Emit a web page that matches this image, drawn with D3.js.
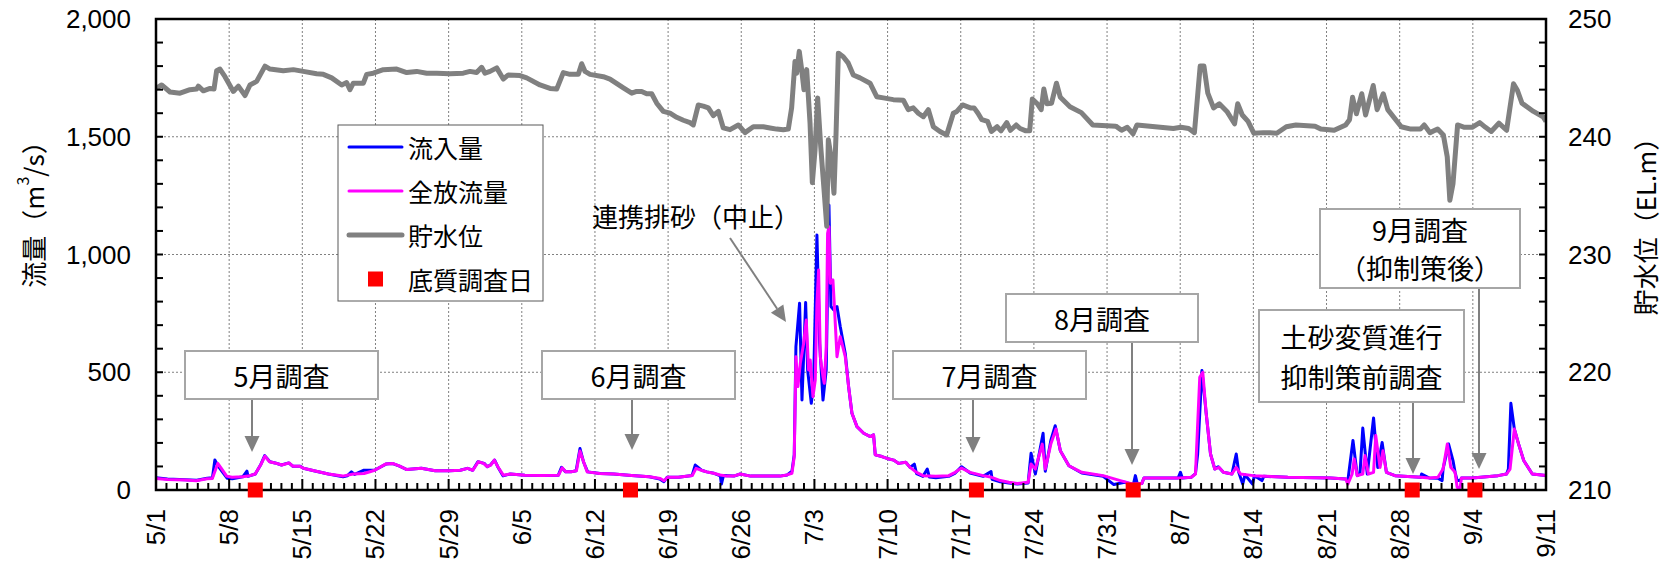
<!DOCTYPE html>
<html lang="ja">
<head>
<meta charset="UTF-8">
<title>流量・貯水位</title>
<script src="https://d3js.org/d3.v7.min.js"></script>
<style>
  body { margin: 0; background: #fff; }
  svg { display: block; }
  text { font-family: "Noto Sans CJK JP", sans-serif; fill: #000; }
  .num { font-family: "Liberation Sans", Arial, sans-serif; font-size: 26px; }
  .grid line { stroke: #808080; stroke-width: 1; stroke-dasharray: 2,2; }
</style>
</head>
<body>
<svg id="chart" width="1668" height="569"></svg>
<script>
// day offsets from 5/1
const startDate = new Date(2023, 4, 1);
const endDate = new Date(2023, 8, 11);

const inflow = [[0,52],[1.1,47],[2.8,44],[3.9,41],[4.9,50],[5.4,52],[5.63,127],[5.9,105],[6.3,80],[6.8,50],[7.3,48],[8.3,56],[8.7,80],[8.8,58],[9.5,68],[10.0,106],[10.4,146],[10.9,120],[11.4,115],[12.0,106],[12.7,115],[13.1,101],[13.8,101],[14.1,92],[15.1,82],[16.5,68],[17.9,56],[18.3,60],[18.7,77],[19.0,66],[19.9,84],[20.9,84],[22.0,110],[22.6,113],[23.3,101],[24.0,87],[25.4,92],[26.7,82],[28.1,82],[29.1,84],[29.8,92],[30.3,84],[30.8,120],[31.4,113],[31.7,99],[32.0,106],[32.4,127],[32.7,99],[33.2,60],[33.9,68],[35.3,63],[37.0,62],[38.5,63],[38.8,96],[39.2,77],[39.7,77],[40.2,82],[40.57,176],[40.9,120],[41.3,77],[42.5,70],[43.8,68],[45.5,62],[47.2,56],[48.2,47],[48.6,35],[48.9,54],[50.0,54],[51.3,62],[51.6,106],[52.2,84],[52.7,77],[53.4,71],[54.0,60],[54.1,25],[54.3,62],[55.3,59],[55.9,68],[56.9,59],[58.5,59],[59.7,59],[60.4,64],[60.85,80],[61.07,150],[61.23,609],[61.58,793],[61.81,382],[62.16,796],[62.35,510],[62.7,368],[62.92,453],[63.24,1083],[63.5,623],[63.82,382],[64.13,510],[64.39,1210],[64.58,779],[64.84,765],[65.16,779],[65.47,694],[65.95,580],[66.27,439],[66.59,326],[67.07,269],[67.71,241],[68.35,227],[68.66,234],[68.82,149],[69.46,142],[69.94,134],[70.58,127],[71.06,113],[71.74,118],[72.15,96],[72.56,110],[72.77,70],[73.39,58],[73.8,89],[74.0,55],[74.62,52],[75.85,58],[76.47,72],[77.08,99],[77.9,72],[79.14,58],[79.9,78],[80.0,45],[80.78,35],[81.6,30],[82.42,25],[83.45,30],[83.73,156],[84.14,68],[84.88,241],[85.09,80],[85.62,210],[86.04,273],[86.53,167],[87.35,103],[88.58,72],[90.63,58],[91.65,23],[92.68,33],[93.51,22],[93.71,61],[93.9,25],[94.33,28],[94.53,51],[95.56,51],[97.8,51],[98.02,75],[98.2,51],[99.05,54],[99.46,70],[99.67,153],[100.08,507],[100.49,323],[100.9,153],[101.31,89],[101.64,99],[102.13,75],[102.95,68],[103.36,153],[103.6,75],[103.98,25],[104.2,65],[104.92,25],[105.1,61],[105.82,40],[106.0,58],[108.29,54],[112.39,51],[113.83,47],[114.04,40],[114.53,210],[114.94,61],[115.2,68],[115.47,263],[115.9,68],[116.5,306],[116.9,96],[117.32,202],[117.73,75],[118.55,61],[119.78,57],[121.02,54],[121.1,68],[121.84,51],[122.66,50],[123.06,40],[123.15,89],[123.68,195],[124.1,125],[124.3,75],[124.5,40],[124.79,40],[124.91,51],[125.94,51],[127.58,57],[128.41,61],[129.23,68],[129.4,89],[129.64,368],[129.97,259],[130.38,195],[130.87,125],[131.69,68],[133,61]];

const outflow = [[0,49],[1.13,45],[2.83,42],[3.86,39],[4.88,48],[5.39,49],[5.91,113],[6.25,92],[6.76,59],[7.27,54],[8.3,56],[8.81,59],[9.49,68],[10.01,106],[10.42,144],[10.86,120],[11.37,115],[12.05,106],[12.74,115],[13.08,101],[13.76,101],[14.1,92],[15.13,82],[16.49,68],[17.86,59],[18.88,68],[19.91,70],[20.93,84],[21.96,110],[22.64,113],[23.32,101],[24.01,87],[25.37,92],[26.74,82],[28.1,82],[29.13,84],[29.81,92],[30.32,84],[30.84,120],[31.35,113],[31.69,99],[32.03,106],[32.37,127],[32.71,99],[33.23,63],[33.91,68],[35.28,63],[36.98,62],[38.52,63],[38.86,94],[39.2,77],[39.72,77],[40.23,82],[40.57,166],[40.91,120],[41.25,77],[42.45,70],[43.81,68],[45.52,62],[47.23,56],[48.25,49],[48.6,39],[48.94,54],[49.96,54],[51.33,62],[51.67,92],[52.18,84],[52.69,77],[53.35,71],[53.99,64],[54.63,59],[55.27,59],[55.9,68],[56.86,59],[58.46,59],[59.73,59],[60.37,64],[60.85,71],[61.07,142],[61.23,566],[61.42,439],[61.65,538],[61.97,623],[62.22,722],[62.44,510],[62.6,552],[62.86,396],[63.08,467],[63.24,793],[63.4,934],[63.56,566],[63.82,481],[63.94,453],[64.13,609],[64.26,1090],[64.39,1118],[64.52,878],[64.77,892],[64.93,765],[65.16,566],[65.47,651],[65.95,566],[66.27,439],[66.59,326],[67.07,269],[67.71,241],[68.35,227],[68.66,234],[68.82,149],[69.46,142],[69.94,134],[70.58,127],[71.06,113],[71.74,118],[72.15,96],[72.77,75],[73.39,61],[74.62,58],[75.85,61],[76.47,75],[77.08,93],[77.9,75],[79.14,61],[79.96,54],[80.78,40],[81.6,33],[82.42,28],[83.45,33],[83.73,110],[84.14,89],[84.8,195],[85.09,89],[85.62,195],[86.12,259],[86.53,167],[87.35,103],[88.58,75],[90.63,61],[92.27,40],[93.51,25],[94.33,28],[94.53,51],[95.56,51],[98.02,51],[99.05,54],[99.46,68],[99.87,479],[100.16,500],[100.49,323],[100.9,153],[101.31,89],[101.72,96],[102.13,75],[102.95,68],[103.36,96],[103.77,68],[105.0,61],[108.29,54],[112.39,51],[113.83,47],[114.04,25],[114.45,68],[114.65,132],[114.94,61],[115.47,68],[115.68,146],[116.01,68],[116.5,75],[116.71,231],[117.12,96],[117.4,167],[117.73,75],[118.55,61],[119.78,57],[121.02,54],[121.84,51],[122.66,54],[123.15,89],[123.56,195],[123.89,96],[124.3,75],[124.5,11],[124.79,11],[124.91,51],[125.94,51],[127.58,57],[128.41,61],[129.23,68],[129.56,89],[129.97,259],[130.38,195],[130.87,125],[131.69,68],[133,61]];

const level = [[0,244.1],[0.54,244.4],[1.34,243.8],[2.3,243.7],[3.25,244.0],[3.89,244.05],[4.05,244.3],[4.53,243.9],[5.17,244.1],[5.55,244.05],[5.8,245.6],[6.12,245.75],[6.6,245.1],[7.4,243.85],[7.88,244.3],[8.52,243.5],[8.99,244.4],[9.63,244.7],[10.43,246.0],[10.91,245.75],[12.18,245.6],[13.14,245.7],[14.1,245.55],[15.37,245.35],[16.01,245.3],[16.81,245.0],[17.77,244.4],[18.24,244.6],[18.56,244.0],[18.88,244.55],[19.84,244.55],[20.16,245.3],[20.79,245.4],[21.75,245.7],[23.03,245.75],[23.99,245.45],[24.94,245.55],[25.9,245.4],[26.86,245.4],[28.13,245.35],[29.4,245.4],[30.04,245.55],[30.68,245.45],[31.16,245.9],[31.48,245.4],[31.96,245.55],[32.6,245.85],[33.23,244.9],[33.71,245.25],[34.83,245.2],[35.47,245.0],[36.74,244.4],[37.7,244.1],[38.34,244.05],[38.97,245.45],[39.61,245.3],[40.41,245.3],[40.73,246.2],[41.05,245.55],[41.53,245.3],[42.8,245.1],[43.44,244.9],[44.72,244.15],[45.52,243.7],[45.99,243.85],[46.47,243.85],[46.95,243.65],[47.43,243.65],[47.91,242.85],[48.54,242.15],[49.18,242.0],[49.82,241.65],[50.46,241.4],[51.1,241.2],[51.41,241.0],[51.89,242.7],[52.37,242.6],[52.85,242.45],[53.33,241.8],[53.81,242.15],[54.28,240.75],[54.92,240.6],[55.72,241.0],[56.36,240.35],[57.15,240.85],[58.11,240.85],[58.75,240.75],[59.39,240.65],[60.02,240.6],[60.5,240.65],[60.82,242.45],[61.14,246.4],[61.3,245.4],[61.55,247.25],[61.78,245.7],[62.0,244.0],[62.26,245.7],[62.58,241.15],[62.8,236.1],[63.06,238.9],[63.31,243.3],[63.6,239.2],[63.92,235.5],[64.18,232.4],[64.33,239.75],[64.59,238.3],[64.87,235.2],[65.07,240.3],[65.29,247.1],[65.76,246.8],[66.24,246.25],[66.72,245.25],[67.36,245.0],[68.32,244.55],[68.96,243.4],[69.59,243.3],[70.55,243.15],[71.51,243.1],[71.98,242.3],[72.46,242.45],[72.94,242.0],[73.42,241.7],[73.9,242.3],[74.38,240.85],[75.01,240.45],[75.65,240.15],[76.29,242.0],[76.63,242.15],[77.18,242.7],[77.92,242.45],[78.28,242.45],[78.65,242.0],[79.02,241.45],[79.57,241.3],[79.93,240.45],[80.48,240.85],[80.85,240.5],[81.4,241.2],[81.76,240.55],[82.31,241.0],[82.68,240.7],[83.23,240.5],[83.6,240.5],[83.85,243.2],[84.33,242.8],[84.7,242.3],[84.95,244.05],[85.25,242.8],[85.69,242.85],[86.16,244.55],[86.53,243.35],[87.45,242.55],[88.54,242.05],[89.64,241.0],[91.84,240.9],[92.39,240.55],[92.94,240.8],[93.49,240.25],[93.86,241.0],[97.34,240.7],[98.07,240.8],[98.81,240.7],[99.36,240.35],[99.91,246.0],[100.27,246.0],[100.64,243.7],[101.19,242.45],[101.74,242.8],[102.47,242.15],[103.2,241.1],[103.5,242.8],[103.94,241.85],[104.49,241.3],[105.04,240.3],[105.95,240.35],[106.5,240.35],[107.24,240.3],[108.15,240.85],[109.07,241.0],[110.9,240.9],[111.45,240.65],[112.73,240.55],[113.83,241.0],[114.2,241.45],[114.49,243.35],[114.86,241.95],[115.37,243.65],[115.74,241.85],[116.47,244.35],[116.84,242.3],[117.43,243.65],[117.86,242.3],[119.15,240.85],[120.06,240.65],[120.98,240.65],[121.35,241.0],[121.9,240.35],[122.63,240.65],[123.18,240.15],[123.55,238.3],[123.8,234.6],[124.1,236.0],[124.54,241.0],[125.2,240.8],[125.93,240.8],[126.66,241.2],[127.21,240.8],[127.76,240.45],[128.49,241.15],[129.23,240.55],[129.89,244.5],[130.26,243.95],[130.7,242.85],[131.8,242.15],[132.71,241.7],[133,241.3]];

const surveyDays = [9.5, 45.4, 78.5, 93.5, 120.2, 126.2];
const flowTicks = [0, 500, 1000, 1500, 2000];
const levelTicks = [210, 220, 230, 240, 250];
const legendLabels = ["流入量", "全放流量", "貯水位", "底質調査日"];
const noteTexts = [["5月調査"], ["6月調査"], ["7月調査"], ["8月調査"], ["土砂変質進行", "抑制策前調査"], ["9月調査", "（抑制策後）"]];
const eventText = "連携排砂（中止）";

// layout
const W = 1668, H = 569;
const m = { left: 156, right: 1546, top: 19, bottom: 490 };

const svg = d3.select("#chart");
svg.append("rect").attr("width", W).attr("height", H).attr("fill", "#fff");

const dayToDate = d => new Date(startDate.getTime() + d * 864e5);

const x = d3.scaleTime().domain([startDate, endDate]).range([m.left, m.right]);
const yFlow = d3.scaleLinear().domain([0, 2000]).range([m.bottom, m.top]);
const yLevel = d3.scaleLinear().domain([210, 250]).range([m.bottom, m.top]);

const weeks = d3.timeDay.range(startDate, d3.timeDay.offset(endDate, 1), 7);
const days = d3.timeDay.range(startDate, d3.timeDay.offset(endDate, 1));

// grid
const grid = svg.append("g").attr("class", "grid");
grid.selectAll(".v").data(weeks.slice(1, -1)).enter().append("line")
    .attr("x1", d => x(d)).attr("x2", d => x(d))
    .attr("y1", m.top).attr("y2", m.bottom);
grid.selectAll(".h").data(flowTicks.slice(1, -1)).enter().append("line")
    .attr("x1", m.left).attr("x2", m.right)
    .attr("y1", d => yFlow(d)).attr("y2", d => yFlow(d));

svg.append("defs").append("clipPath").attr("id", "plotClip")
    .append("rect").attr("x", m.left).attr("y", m.top)
    .attr("width", m.right - m.left).attr("height", m.bottom - m.top);

const flowLine = d3.line().x(d => x(dayToDate(d[0]))).y(d => yFlow(d[1]));
const levelLine = d3.line().x(d => x(dayToDate(d[0]))).y(d => yLevel(d[1]));

const plot = svg.append("g").attr("clip-path", "url(#plotClip)");
plot.append("path").datum(inflow).attr("d", flowLine)
    .attr("fill", "none").attr("stroke", "#0000ff").attr("stroke-width", 3).attr("stroke-linejoin", "round");
plot.append("path").datum(outflow).attr("d", flowLine)
    .attr("fill", "none").attr("stroke", "#ff00ff").attr("stroke-width", 3).attr("stroke-linejoin", "round");
plot.append("path").datum(level).attr("d", levelLine)
    .attr("fill", "none").attr("stroke", "#808080").attr("stroke-width", 5).attr("stroke-linejoin", "round");

// frame + ticks
const axes = svg.append("g").attr("stroke", "#000");
axes.append("rect").attr("x", m.left).attr("y", m.top)
    .attr("width", m.right - m.left).attr("height", m.bottom - m.top)
    .attr("fill", "none").attr("stroke-width", 2.5);
axes.selectAll(".lt").data(d3.range(100, 2000, 100)).enter().append("line")
    .attr("x1", m.left).attr("x2", m.left + 7)
    .attr("y1", d => yFlow(d)).attr("y2", d => yFlow(d)).attr("stroke-width", 2);
axes.selectAll(".rt").data(d3.range(212, 250, 2)).enter().append("line")
    .attr("x1", m.right - 7).attr("x2", m.right)
    .attr("y1", d => yLevel(d)).attr("y2", d => yLevel(d)).attr("stroke-width", 2);
axes.selectAll(".bt").data(days.slice(1, -1)).enter().append("line")
    .attr("x1", d => x(d)).attr("x2", d => x(d))
    .attr("y1", m.bottom).attr("y2", d => m.bottom - (d3.timeDay.count(startDate, d) % 7 === 0 ? 11 : 7))
    .attr("stroke-width", 2);

// tick labels
svg.selectAll(".yl").data(flowTicks).enter().append("text")
    .attr("class", "num").attr("x", 131).attr("y", d => yFlow(d))
    .attr("text-anchor", "end").attr("dominant-baseline", "central")
    .text(d => d3.format(",")(d));
svg.selectAll(".yr").data(levelTicks).enter().append("text")
    .attr("class", "num").attr("x", 1568).attr("y", d => yLevel(d))
    .attr("dominant-baseline", "central")
    .text(d => d);
const fmt = d3.timeFormat("%-m/%-d");
svg.selectAll(".xl").data(weeks).enter().append("text")
    .attr("class", "num")
    .attr("transform", d => `translate(${x(d)},${m.bottom + 19}) rotate(-90)`)
    .attr("text-anchor", "end").attr("dominant-baseline", "central")
    .text(d => fmt(d));

// axis titles
const lt = svg.append("text").attr("transform", "translate(32,208) rotate(-90)")
    .attr("text-anchor", "middle").attr("dominant-baseline", "central").attr("font-size", 26);
lt.append("tspan").text("流量（m");
lt.append("tspan").attr("font-size", 16).attr("dy", -10).text("3");
lt.append("tspan").attr("dy", 10).text("/s）");
svg.append("text").attr("transform", "translate(1644,220) rotate(-90)")
    .attr("text-anchor", "middle").attr("dominant-baseline", "central").attr("font-size", 26)
    .text("貯水位（EL.m）");

// survey markers
svg.selectAll(".sq").data(surveyDays).enter().append("rect")
    .attr("x", d => x(dayToDate(d)) - 7.5).attr("y", yFlow(0) - 7.5)
    .attr("width", 15).attr("height", 15).attr("fill", "#ff0000");

// legend
const lg = svg.append("g");
lg.append("rect").attr("x", 338).attr("y", 125).attr("width", 205).attr("height", 176)
    .attr("fill", "#fff").attr("stroke", "#595959").attr("stroke-width", 1);
const legendRows = [
  { stroke: "#0000ff", w: 3 }, { stroke: "#ff00ff", w: 3 }, { stroke: "#808080", w: 5 }, { square: true }
];
legendRows.forEach((r, i) => {
  const cy = 147 + i * 44;
  if (r.square) {
    lg.append("rect").attr("x", 368).attr("y", cy - 7.5).attr("width", 15).attr("height", 15).attr("fill", "#ff0000");
  } else {
    lg.append("line").attr("x1", 349).attr("x2", 402).attr("y1", cy).attr("y2", cy)
      .attr("stroke", r.stroke).attr("stroke-width", r.w).attr("stroke-linecap", "round");
  }
  lg.append("text").attr("x", 408).attr("y", cy).attr("dominant-baseline", "central")
    .attr("font-size", 25).text(legendLabels[i]);
});

// annotation boxes
const noteLayout = [
  { x: 185, y: 351, w: 193, h: 48, ax: 252, tip: 452 },
  { x: 542, y: 351, w: 193, h: 48, ax: 632, tip: 450 },
  { x: 893, y: 351, w: 193, h: 48, ax: 973, tip: 453 },
  { x: 1006, y: 294, w: 192, h: 48, ax: 1132, tip: 465 },
  { x: 1259, y: 310, w: 205, h: 92, ax: 1413, tip: 474 },
  { x: 1320, y: 209, w: 200, h: 79, ax: 1479, tip: 469 }
];
const arrowG = svg.append("g");
function arrow(x1, y1, x2, y2) {
  const ang = Math.atan2(y2 - y1, x2 - x1), L = 16, hw = 7.5;
  const bx = x2 - L * Math.cos(ang), by = y2 - L * Math.sin(ang);
  arrowG.append("line").attr("x1", x1).attr("y1", y1).attr("x2", bx).attr("y2", by)
    .attr("stroke", "#808080").attr("stroke-width", 2);
  const px = -Math.sin(ang) * hw, py = Math.cos(ang) * hw;
  arrowG.append("path")
    .attr("d", `M${x2},${y2}L${bx + px},${by + py}L${bx - px},${by - py}Z`)
    .attr("fill", "#808080");
}
noteLayout.forEach((b, i) => {
  const g = svg.append("g");
  g.append("rect").attr("x", b.x).attr("y", b.y).attr("width", b.w).attr("height", b.h)
    .attr("fill", "#fff").attr("stroke", "#a6a6a6").attr("stroke-width", 2);
  const lines = noteTexts[i];
  const lh = lines.length > 1 ? (b.h > 85 ? 40 : 38) : 0;
  lines.forEach((t, j) => {
    g.append("text").attr("x", b.x + b.w / 2)
      .attr("y", b.y + b.h / 2 + (j - (lines.length - 1) / 2) * lh)
      .attr("text-anchor", "middle").attr("dominant-baseline", "central")
      .attr("font-size", 27).text(t);
  });
  arrow(b.ax, b.y + b.h, b.ax, b.tip);
});

// event label
svg.append("text").attr("x", 592).attr("y", 215).attr("dominant-baseline", "central")
  .attr("font-size", 26).text(eventText);
arrow(730, 238, 786, 322);
</script>
</body>
</html>
